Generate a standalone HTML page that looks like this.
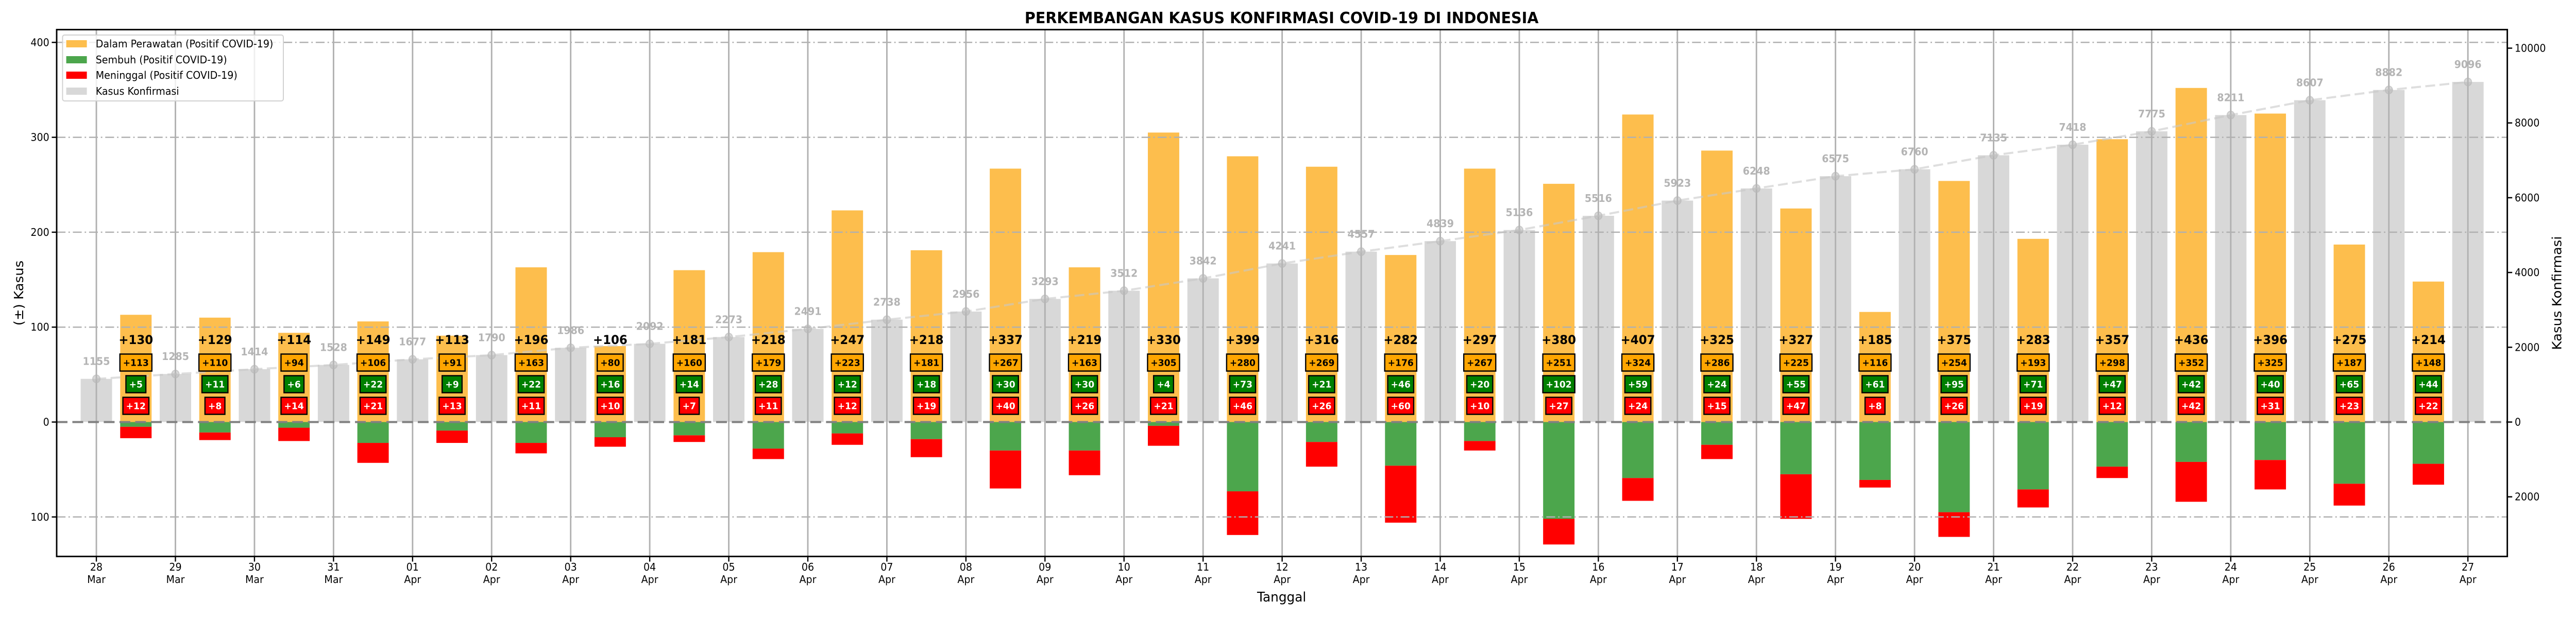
<!DOCTYPE html>
<html><head><meta charset="utf-8">
<style>
html,body{margin:0;padding:0;background:#fff;width:100%;height:100%;overflow:hidden;}
svg#chart{position:fixed;left:0;top:0;width:100vw;height:100vh;display:block;font-family:"DejaVu Sans","Liberation Sans",sans-serif;}
</style></head>
<body>
<svg id="chart" viewBox="0 0 5250 1200" preserveAspectRatio="none" xmlns="http://www.w3.org/2000/svg">
  <text x="2612" y="45" text-anchor="middle" font-size="30" font-weight="bold">PERKEMBANGAN KASUS KONFIRMASI COVID-19 DI INDONESIA</text>
  <g id="gray-layer"></g>
  <g id="bar-layer"></g>
  <g id="grid-layer"></g>
  <g id="line-layer"></g>
  <g id="label-layer"></g>
  <g id="axis-layer"></g>
  <text x="2612" y="1168" text-anchor="middle" font-size="26">Tanggal</text>
  <text transform="translate(47,569) rotate(-90)" text-anchor="middle" font-size="26">(±) Kasus</text>
  <text transform="translate(5220,569) rotate(-90)" text-anchor="middle" font-size="26">Kasus Konfirmasi</text>
  <g font-size="20">
    <rect x="127.5" y="68" width="450" height="128" rx="4" fill="#fff" fill-opacity="0.8" stroke="#d0d0d0" stroke-width="2"/>
    <rect x="135" y="78" width="42" height="14" fill="#fdbe4d"/>
    <text x="195" y="92">Dalam Perawatan (Positif COVID-19)</text>
    <rect x="135" y="109" width="42" height="14" fill="#4ca64c"/>
    <text x="195" y="123">Sembuh (Positif COVID-19)</text>
    <rect x="135" y="139" width="42" height="14" fill="#ff0000"/>
    <text x="195" y="153">Meninggal (Positif COVID-19)</text>
    <rect x="135" y="170" width="42" height="14" fill="#d8d8d8"/>
    <text x="195" y="184">Kasus Konfirmasi</text>
  </g>
</svg>
<script>
const dates = ["28|Mar","29|Mar","30|Mar","31|Mar","01|Apr","02|Apr","03|Apr","04|Apr","05|Apr","06|Apr","07|Apr","08|Apr","09|Apr","10|Apr","11|Apr","12|Apr","13|Apr","14|Apr","15|Apr","16|Apr","17|Apr","18|Apr","19|Apr","20|Apr","21|Apr","22|Apr","23|Apr","24|Apr","25|Apr","26|Apr","27|Apr"];
const confirmed = [1155,1285,1414,1528,1677,1790,1986,2092,2273,2491,2738,2956,3293,3512,3842,4241,4557,4839,5136,5516,5923,6248,6575,6760,7135,7418,7775,8211,8607,8882,9096];
const treated = [113,110,94,106,91,163,80,160,179,223,181,267,163,305,280,269,176,267,251,324,286,225,116,254,193,298,352,325,187,148];
const recovered = [5,11,6,22,9,22,16,14,28,12,18,30,30,4,73,21,46,20,102,59,24,55,61,95,71,47,42,40,65,44];
const deaths = [12,8,14,21,13,11,10,7,11,12,19,40,26,21,46,26,60,10,27,24,15,47,8,26,19,12,42,31,23,22];
const leftTicks = [400,300,200,100,0,-100];
const rightTicks = [10000,8000,6000,4000,2000,0,-2000];

const NS = "http://www.w3.org/2000/svg";
const AX_L = 115.5, AX_R = 5110, AX_T = 57.5, AX_B = 1080.5;
const ZERO_Y = 819.5;
function xScale(i){ return 196.4 + i*161.11; }
function yLeft(v){ return ZERO_Y - v*1.843; }
function yRight(v){ return ZERO_Y - v*0.0726; }
const BW = 64;

function mk(tag, attrs, parent){
  const e = document.createElementNS(NS, tag);
  for (const k in attrs) e.setAttribute(k, attrs[k]);
  parent.appendChild(e);
  return e;
}
const gray = document.getElementById('gray-layer');
const bars = document.getElementById('bar-layer');
const grid = document.getElementById('grid-layer');
const lineL = document.getElementById('line-layer');
const lab = document.getElementById('label-layer');
const axis = document.getElementById('axis-layer');

confirmed.forEach((v,i)=>{
  const r = mk('rect',{x:xScale(i)-BW/2, y:yRight(v), width:BW, height:yRight(0)-yRight(v), fill:'#d8d8d8'}, gray);
  
  
});
treated.forEach((v,i)=>{
  const cx = xScale(i+0.5);
  const r1 = mk('rect',{x:cx-BW/2, y:yLeft(v), width:BW, height:yLeft(0)-yLeft(v), fill:'#fdbe4d'}, bars);
  
  
  const rc = recovered[i], d = deaths[i];
  const r2 = mk('rect',{x:cx-BW/2, y:yLeft(0), width:BW, height:yLeft(-rc)-yLeft(0), fill:'#4ca64c'}, bars);
  
  
  const r3 = mk('rect',{x:cx-BW/2, y:yLeft(-rc), width:BW, height:yLeft(-rc-d)-yLeft(-rc), fill:'#ff0000'}, bars);
  
  
});
leftTicks.forEach(t=>{
  if (t===0) return;
  const g = mk('line',{x1:AX_L, x2:AX_R, y1:yLeft(t), y2:yLeft(t), stroke:'#b0b0b0', 'stroke-width':2.5, 'stroke-dasharray':'18 6 3 6'}, grid);
  
  
});
dates.forEach((d,i)=>{
  const g = mk('line',{x1:xScale(i), x2:xScale(i), y1:AX_T, y2:AX_B, stroke:'#b0b0b0', 'stroke-width':3}, grid);
  
  
});
const zl = mk('line',{x1:AX_L, x2:AX_R, y1:ZERO_Y, y2:ZERO_Y, stroke:'#808080', 'stroke-width':4, 'stroke-dasharray':'22 10'}, grid);


const pts = confirmed.map((v,i)=>xScale(i)+','+yRight(v)).join(' ');
const pl = mk('polyline',{points:pts, fill:'none', stroke:'#c8c8c8', 'stroke-opacity':0.6, 'stroke-width':4, 'stroke-dasharray':'20 9'}, lineL);


confirmed.forEach((v,i)=>{
  const c = mk('circle',{cx:xScale(i), cy:yRight(v), r:7.5, fill:'#b8b8b8', 'fill-opacity':0.55, stroke:'#b8b8b8','stroke-opacity':0.6,'stroke-width':2}, lineL);
  
  
  const t = mk('text',{x:xScale(i), y:yRight(v)-27, 'text-anchor':'middle', 'font-size':20, 'font-weight':'bold', fill:'#b4b4b4'}, lab);
  t.textContent = v;
  
  
});
function box(cx, cy, txt, bg, fg, name){
  const t = mk('text',{x:cx, y:cy+6.5, 'text-anchor':'middle', 'font-size':18, 'font-weight':'bold', fill:fg}, lab);
  t.textContent = txt;
  const w = txt.length*12.3;
  const r = document.createElementNS(NS,'rect');
  r.setAttribute('x', cx-w/2-8); r.setAttribute('y', cy-16.5);
  r.setAttribute('width', w+16); r.setAttribute('height', 33);
  r.setAttribute('fill', bg); r.setAttribute('stroke','#000'); r.setAttribute('stroke-width',2.5);
  
  
  lab.insertBefore(r, t);
  
  
}
treated.forEach((v,i)=>{
  const cx = xScale(i+0.5);
  const total = v + recovered[i] + deaths[i];
  const t = mk('text',{x:cx, y:668, 'text-anchor':'middle', 'font-size':24, 'font-weight':'bold', fill:'#000'}, lab);
  t.textContent = '+' + total;
  
  
  box(cx, 704, '+'+v, '#ffa500', '#000', 'treated-box');
  box(cx, 746, '+'+recovered[i], '#008000', '#fff', 'recovered-box');
  box(cx, 788, '+'+deaths[i], '#ff0000', '#fff', 'death-box');
});
const fr = mk('rect',{x:AX_L, y:AX_T, width:AX_R-AX_L, height:AX_B-AX_T, fill:'none', stroke:'#000', 'stroke-width':3}, axis);


leftTicks.forEach(t=>{
  const y = yLeft(t);
  mk('line',{x1:AX_L-10, x2:AX_L, y1:y, y2:y, stroke:'#000','stroke-width':2.5}, axis);
  const tx = mk('text',{x:AX_L-15, y:y+7, 'text-anchor':'end','font-size':20}, axis);
  tx.textContent = Math.abs(t);
  
  
});
rightTicks.forEach(t=>{
  const y = yRight(t);
  mk('line',{x1:AX_R, x2:AX_R+10, y1:y, y2:y, stroke:'#000','stroke-width':2.5}, axis);
  const tx = mk('text',{x:AX_R+15, y:y+7, 'text-anchor':'start','font-size':20}, axis);
  tx.textContent = Math.abs(t);
  
  
});
dates.forEach((d,i)=>{
  const x = xScale(i);
  mk('line',{x1:x, x2:x, y1:AX_B, y2:AX_B+10, stroke:'#000','stroke-width':2.5}, axis);
  const [a,b] = d.split('|');
  const t1 = mk('text',{x:x, y:1108, 'text-anchor':'middle','font-size':20}, axis);
  t1.textContent = a;
  
  
  const t2 = mk('text',{x:x, y:1132, 'text-anchor':'middle','font-size':20}, axis);
  t2.textContent = b;
  
  
});
</script>
</body></html>
